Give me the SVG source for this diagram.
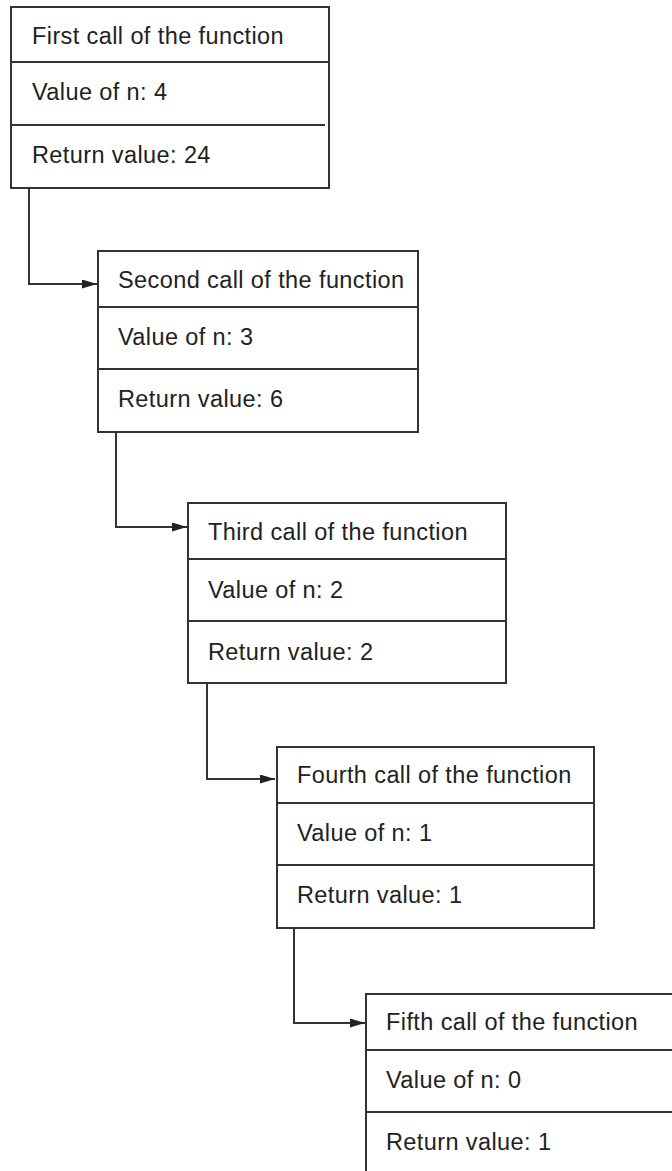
<svg xmlns="http://www.w3.org/2000/svg" width="672" height="1171" viewBox="0 0 672 1171">
<style>
.box{fill:#fff;stroke:#333;stroke-width:2}
.div{stroke:#333;stroke-width:2}
.t{font-family:"Liberation Sans",Arial,sans-serif;font-size:23.5px;letter-spacing:0.4px;fill:#222}
.c{fill:none;stroke:#333;stroke-width:2}
</style>
<defs>
<marker id="ah" markerWidth="15" markerHeight="9" refX="15" refY="4.5" orient="auto" markerUnits="userSpaceOnUse">
<path d="M0,0 L15,4.5 L0,9 Z" fill="#222"/>
</marker>
</defs>
<rect width="672" height="1171" fill="#fff"/>
<g id="connectors">
<path class="c" d="M29,188 V284 H97" marker-end="url(#ah)"/>
<path class="c" d="M116,432 V527 H187" marker-end="url(#ah)"/>
<path class="c" d="M207,683 V779 H275" marker-end="url(#ah)"/>
<path class="c" d="M294,928 V1023 H365" marker-end="url(#ah)"/>
</g>
<g id="call1">
<rect class="box" x="11" y="7" width="318" height="181"/>
<line class="div" x1="11" y1="62" x2="329" y2="62"/>
<line class="div" x1="11" y1="125" x2="325" y2="125"/>
<text class="t" x="32" y="44">First call of the function</text>
<text class="t" x="32" y="100">Value of n: 4</text>
<text class="t" x="32" y="163">Return value: 24</text>
</g>
<g id="call2">
<rect class="box" x="98" y="251" width="320" height="181"/>
<line class="div" x1="98" y1="307" x2="418" y2="307"/>
<line class="div" x1="98" y1="369" x2="418" y2="369"/>
<text class="t" x="118" y="288">Second call of the function</text>
<text class="t" x="118" y="345">Value of n: 3</text>
<text class="t" x="118" y="407">Return value: 6</text>
</g>
<g id="call3">
<rect class="box" x="188" y="503" width="318" height="180"/>
<line class="div" x1="188" y1="559" x2="506" y2="559"/>
<line class="div" x1="188" y1="621" x2="506" y2="621"/>
<text class="t" x="208" y="540">Third call of the function</text>
<text class="t" x="208" y="598">Value of n: 2</text>
<text class="t" x="208" y="660">Return value: 2</text>
</g>
<g id="call4">
<rect class="box" x="277" y="747" width="317" height="181"/>
<line class="div" x1="277" y1="803" x2="594" y2="803"/>
<line class="div" x1="277" y1="865" x2="594" y2="865"/>
<text class="t" x="297" y="783">Fourth call of the function</text>
<text class="t" x="297" y="841">Value of n: 1</text>
<text class="t" x="297" y="903">Return value: 1</text>
</g>
<g id="call5">
<rect class="box" x="366" y="994" width="320" height="200"/>
<line class="div" x1="366" y1="1050" x2="672" y2="1050"/>
<line class="div" x1="366" y1="1112" x2="672" y2="1112"/>
<text class="t" x="386" y="1030">Fifth call of the function</text>
<text class="t" x="386" y="1088">Value of n: 0</text>
<text class="t" x="386" y="1150">Return value: 1</text>
</g>
</svg>
